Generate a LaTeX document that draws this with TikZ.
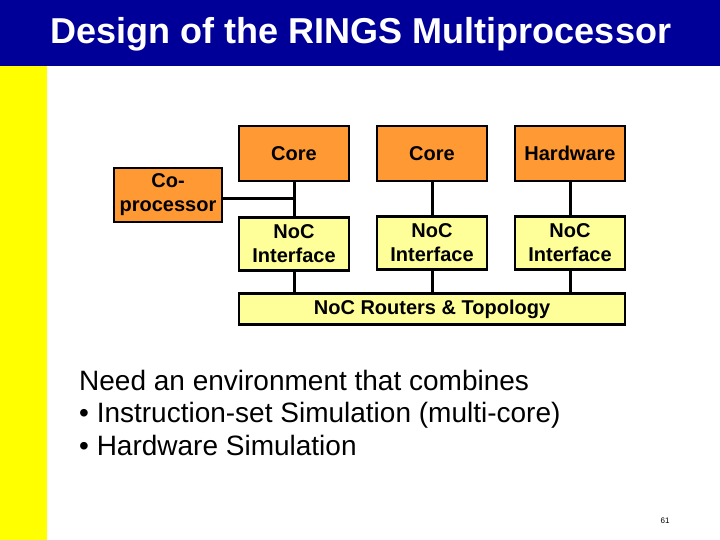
\documentclass[tikz,border=0pt]{standalone}
\usepackage{fontspec}
\setmainfont{Liberation Sans}
\usepackage{tikz}

\definecolor{barblue}{HTML}{000099}
\definecolor{stripeyellow}{HTML}{FFFF00}
\definecolor{unitorange}{HTML}{FF9933}
\definecolor{nocyellow}{HTML}{FFFF99}

\tikzset{
	unitbox/.style={draw=black,line width=2.2pt,fill=unitorange,align=center,
		font=\fontsize{20}{24}\selectfont\bfseries,inner sep=0pt},
	nocbox/.style={unitbox,fill=nocyellow},
	link/.style={line width=3pt}
}

\begin{document}
\begin{tikzpicture}[x=1pt,y=-1pt]
	\useasboundingbox (0,0) rectangle (720,540);
	\fill[white] (0,0) rectangle (720,540);
	\fill[barblue] (0,0) rectangle (720,66);
	\fill[stripeyellow] (0,66) rectangle (47,540);
	\node[white,font=\fontsize{36}{40}\selectfont\bfseries] (title) at (361,34) {Design of the RINGS Multiprocessor};

	\node[unitbox,minimum width=110pt,minimum height=55pt] (core1) at (294,153.5) {Core};
	\node[unitbox,minimum width=110pt,minimum height=55pt] (core2) at (432,153.5) {Core};
	\node[unitbox,minimum width=110pt,minimum height=55pt] (hw) at (570,153.5) {Hardware};
	\node[unitbox,minimum width=108pt,minimum height=54pt] (cop) at (168,195) {Co-\\processor};
	\node[nocbox,minimum width=110pt,minimum height=53pt] (noc1) at (294,244) {NoC\\Interface};
	\node[nocbox,minimum width=110pt,minimum height=53pt] (noc2) at (432,243) {NoC\\Interface};
	\node[nocbox,minimum width=110pt,minimum height=53pt] (noc3) at (570,243) {NoC\\Interface};
	\node[nocbox,minimum width=386pt,minimum height=31pt] (routers) at (432,309) {NoC Routers \& Topology};

	\coordinate (tj) at (294,199);
	\draw[link] (core1) -- (noc1);
	\draw[link] (cop.east |- tj) -- (tj);
	\draw[link] (core2) -- (noc2);
	\draw[link] (hw) -- (noc3);
	\draw[link] (noc1) -- (noc1 |- routers.north);
	\draw[link] (noc2) -- (routers);
	\draw[link] (noc3) -- (noc3 |- routers.north);

	\node[anchor=base west,align=left,inner sep=0pt,font=\fontsize{28}{32.5}\selectfont] (needs) at (79,455)
		{Need an environment that combines\\• Instruction-set Simulation (multi-core)\\• Hardware Simulation};
	\node[font=\fontsize{8}{9}\selectfont] (pageno) at (665,521) {61};
\end{tikzpicture}
\end{document}
